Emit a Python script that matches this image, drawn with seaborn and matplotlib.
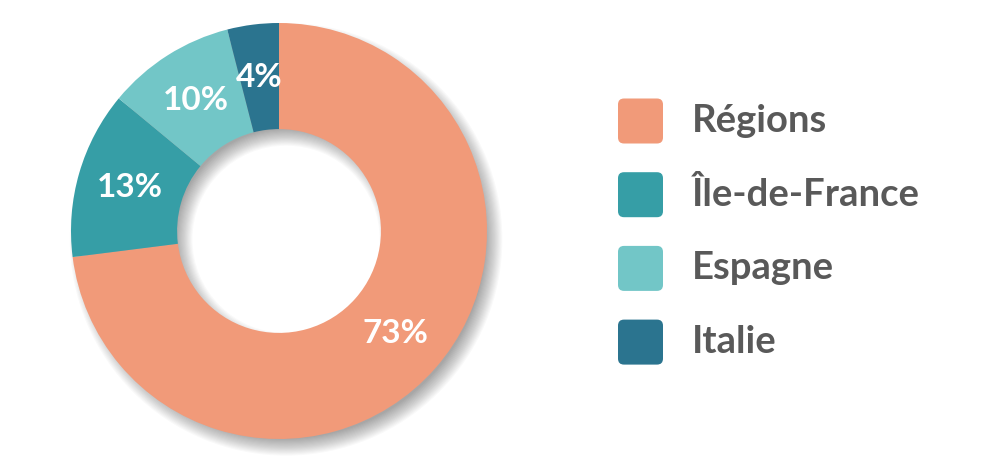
import matplotlib
matplotlib.use("Agg")
import matplotlib.pyplot as plt
from matplotlib.patches import Wedge, FancyBboxPatch
from matplotlib.transforms import IdentityTransform
import seaborn as sns

labels = ["Régions", "Île-de-France", "Espagne", "Italie"]
values = [73, 13, 10, 4]
colors = ["#F19A79", "#369EA6", "#72C6C7", "#2B748F"]

sns.set_theme(style="white")
plt.rcParams["font.family"] = ["Lato", "DejaVu Sans"]

fig = plt.figure(figsize=(9.97, 4.75), dpi=100)
W, H = 997, 475
cx, cy, R = 279, 244, 208
ax = fig.add_axes([(cx - R) / W, (cy - R) / H, 2 * R / W, 2 * R / H])
ax.set_xlim(-1, 1)
ax.set_ylim(-1, 1)
ax.set_aspect("equal")
ax.axis("off")

ring = 0.51
# soft drop shadow, offset down-right
n = 16
b = 0.04
for i in range(n):
    s = -b + 2 * b * i / (n - 1)
    sh = Wedge((0.034, -0.04), 1 + s, 0, 360, width=ring + 2 * s,
               facecolor="black", alpha=0.022, linewidth=0, clip_on=False, zorder=0)
    ax.add_patch(sh)

wedges, _, autotexts = ax.pie(
    values, colors=colors, startangle=90, counterclock=False,
    radius=1, autopct="%d%%", pctdistance=0.745,
    wedgeprops=dict(width=ring, linewidth=0),
    textprops=dict(color="white", fontsize=24, fontweight="bold"),
)
for w in wedges:
    w.set_zorder(2)
for t in autotexts:
    t.set_zorder(3)
ax.set_xlim(-1, 1)
ax.set_ylim(-1, 1)

# legend drawn by hand with rounded swatches (pixel units)
box = 45
x0 = 618
y_top = 121
step = 73.7
for i, (lab, col) in enumerate(zip(labels, colors)):
    yc = y_top + i * step
    fig.patches.append(FancyBboxPatch(
        (x0, H - yc - box / 2), box, box,
        boxstyle="round,pad=0,rounding_size=6",
        transform=IdentityTransform(), facecolor=col, edgecolor="none"))
    fig.text(692 / W, (H - yc) / H, lab, fontsize=27.5, fontweight="bold",
             color="#595959", va="center", ha="left")

fig.savefig("out.png", dpi=100, facecolor="white")
